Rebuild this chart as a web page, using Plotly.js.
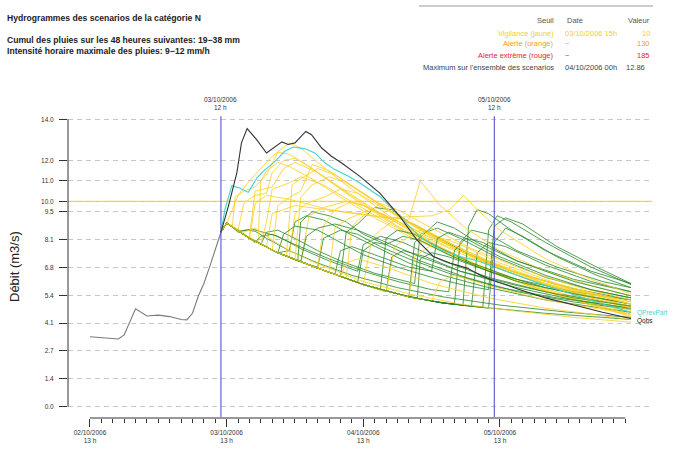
<!DOCTYPE html>
<html>
<head>
<meta charset="utf-8">
<script src="https://cdn.plot.ly/plotly-3.0.1.min.js"></script>
<style>
  html, body { margin: 0; padding: 0; background: #fff; }
  #graph { width: 676px; height: 465px; }
</style>
</head>
<body>
<div id="graph"></div>
<script>
// Time is expressed in hours since 02/10/2006 13h.
const debutPrevision = 23;   // 03/10/2006 12h
const finFenetre = 71;       // 05/10/2006 12h
const seuilVigilance = 10;

// Observed discharge (Qobs)
const obsT = [0, 5, 6, 7, 8, 10, 12, 14, 16, 17, 18, 19, 20, 21, 22, 23,
  24.3, 25.8, 26.6, 27.6, 29.3, 31, 32.5, 33.7, 34.8, 36, 37.9, 38.9, 40.7, 42.4, 44.2,
  47.4, 50.9, 54.4, 57.4, 60.3, 63.2, 66.2, 68.5, 70.2, 75, 80, 85, 90, 95];
const obsQ = [3.41, 3.30, 3.5, 4.1, 4.77, 4.42, 4.46, 4.39, 4.25, 4.23, 4.55, 5.37, 6.0, 6.8, 7.7, 8.5,
  9.76, 11.4, 12.85, 13.55, 13.0, 12.36, 12.68, 12.9, 12.77, 12.85, 13.41, 13.25, 12.6, 12.2, 11.87,
  11.22, 10.4, 9.27, 8.13, 7.32, 7.0, 6.75, 6.42, 6.21, 5.75, 5.3, 4.95, 4.6, 4.3];

// Forecast with partial rainfall (QPrevPart)
const qprevT = [23, 23.7, 24.9, 26.3, 27.8, 29.3, 30.4, 32.5, 34.2, 35.7, 37.8, 39.5, 41.3, 43.0,
  45.4, 47.4, 50.9, 54.4, 57.9, 61.5, 65, 68.5, 75, 80, 85, 90, 95];
const qprevQ = [8.5, 9.6, 10.77, 10.65, 10.44, 11.14, 11.46, 11.95, 12.44, 12.65, 12.56, 12.36, 11.87, 11.55,
  11.22, 10.9, 10.24, 9.27, 8.29, 7.64, 7.32, 7.07, 6.4, 5.9, 5.45, 5.0, 4.6];

// Rainfall scenarios, [hour, discharge] pairs — stronger responses (yellow)
const scenariosJaunes = [
  [[23,8.5],[24,8.95],[25,9.6],[26,10.3],[28,11.0],[30,11.6],[32,12.2],[35,12.86],[37,12.6],[40,11.9],[44,11.0],[48,10.2],[52,9.4],[56,8.7],[60,8.0],[65,7.3],[70,6.7],[75,6.2],[80,5.75],[85,5.35],[90,5.0],[95,4.7]],
  [[23,8.5],[24,8.95],[25,8.8],[25.5,10.2],[27,10.5],[29,10.7],[31,11.3],[33,12.4],[35,12.3],[38,11.8],[42,11.0],[47,10.0],[52,9.1],[58,8.1],[64,7.3],[70,6.6],[78,5.8],[86,5.2],[95,4.6]],
  [[23,8.5],[24,8.95],[26,8.6],[27,9.9],[29,10.3],[31,10.4],[32,11.4],[34,12.0],[36,12.1],[39,11.6],[43,10.8],[48,9.9],[54,8.8],[60,7.9],[66,7.1],[73,6.3],[81,5.6],[88,5.0],[95,4.5]],
  [[23,8.5],[24,8.95],[26,8.55],[28,8.25],[29,10.5],[32,10.7],[34,11.6],[36,11.9],[40,11.4],[45,10.5],[50,9.6],[56,8.6],[62,7.7],[68,6.9],[76,6.0],[85,5.2],[95,4.4]],
  [[23,8.5],[24,8.95],[27,8.4],[29.5,8.0],[30,11.0],[31,11.5],[33,11.9],[35,11.7],[39,11.1],[44,10.2],[50,9.2],[56,8.3],[63,7.4],[70,6.6],[79,5.7],[88,5.0],[95,4.5]],
  [[23,8.5],[24,8.95],[27,8.4],[30,7.9],[31,9.0],[32,10.6],[35,10.9],[37,11.2],[41,10.8],[46,10.0],[52,9.0],[58,8.1],[65,7.2],[72,6.4],[80,5.6],[88,4.95],[95,4.4]],
  [[23,8.5],[24,8.95],[28,8.2],[32,7.6],[33,9.8],[35,10.2],[37,10.5],[39,11.8],[42,11.5],[47,10.6],[53,9.5],[59,8.5],[65,7.6],[72,6.7],[80,5.9],[88,5.2],[95,4.7]],
  [[23,8.5],[24,8.95],[28,8.2],[33,7.5],[34.5,7.35],[35.5,10.8],[37,11.1],[40,11.6],[43,11.3],[48,10.4],[54,9.3],[60,8.3],[67,7.3],[75,6.4],[85,5.5],[95,4.8]],
  [[23,8.5],[24,8.95],[28,8.2],[33,7.5],[35,7.3],[36,9.4],[38,9.9],[41,10.2],[44,10.6],[47,10.4],[52,9.6],[58,8.6],[65,7.6],[73,6.6],[83,5.7],[95,4.9]],
  [[23,8.5],[24,8.95],[28,8.2],[33,7.5],[36,7.15],[37,10.2],[39,10.8],[42,11.2],[45,10.9],[50,10.0],[56,9.0],[62,8.1],[70,7.1],[80,6.0],[95,4.85]],
  [[23,8.5],[24,8.95],[28,8.2],[33,7.5],[37,7.05],[38.5,9.3],[41,9.7],[45,10.0],[48,9.8],[53,9.1],[60,8.1],[68,7.1],[78,6.1],[88,5.3],[95,4.8]],
  [[23,8.5],[24,8.95],[28,8.2],[33,7.5],[40,6.75],[41,8.8],[43,9.6],[46,10.0],[49,9.7],[55,8.9],[62,7.9],[70,7.0],[80,6.0],[95,5.0]],
  [[23,8.5],[24,8.95],[28,8.2],[33,7.5],[40,6.75],[42,6.55],[43,8.7],[45,9.1],[49,9.6],[52,9.3],[58,8.5],[65,7.6],[74,6.6],[85,5.7],[95,5.1]],
  [[23,8.5],[24,8.95],[28,8.2],[33,7.5],[40,6.75],[45,6.25],[46,8.8],[48,9.3],[51,9.9],[54,9.6],[60,8.7],[67,7.7],[76,6.7],[86,5.8],[95,5.2]],
  [[23,8.5],[24,8.95],[28,8.2],[33,7.5],[40,6.75],[48,5.95],[49.5,8.2],[51,8.6],[54,9.2],[57,8.9],[63,8.0],[70,7.1],[80,6.1],[95,5.1]],
  [[23,8.5],[24,8.95],[26,8.55],[28,8.2],[29,9.9],[31,10.3],[35,10.1],[42,9.6],[50,9.3],[56,9.1],[58,11.0],[61.5,9.8],[66,8.7],[72,7.6],[80,6.6],[88,5.9],[95,5.4]],
  [[23,8.5],[24,8.95],[27,8.4],[31,7.8],[32,9.4],[36,9.8],[44,9.5],[52,9.2],[60,9.3],[63.2,9.6],[65.6,10.3],[68,9.6],[72,8.6],[80,7.2],[88,6.2],[95,5.5]],
  [[23,8.5],[24,8.95],[28,8.2],[33,7.5],[40,6.75],[48,5.95],[52,5.6],[53.5,7.8],[55,8.1],[58,8.6],[61,8.3],[67,7.4],[75,6.5],[85,5.7],[95,5.0]],
  [[23,8.5],[24,8.95],[28,8.2],[33,7.5],[40,6.75],[48,5.95],[56,5.35],[57,7.3],[59,7.7],[62,8.2],[65,7.9],[72,7.0],[82,6.0],[95,5.0]],
  [[23,8.5],[24,8.95],[28,8.2],[33,7.5],[40,6.75],[48,5.95],[56,5.35],[60,5.15],[61.5,6.1],[64,6.4],[70,5.9],[80,5.2],[95,4.5]],
  [[23,8.5],[24,8.95],[25.5,8.7],[27,8.5],[29,8.7],[31,8.3],[35,7.6],[40,6.95],[48,6.1],[56,5.5],[65,5.0],[75,4.65],[85,4.35],[95,4.12]],
  [[23,8.5],[24,8.95],[28,8.2],[33,7.5],[40,6.75],[44,6.35],[45,7.0],[47,7.2],[52,6.8],[60,6.0],[70,5.3],[80,4.8],[95,4.25]]
];

// Rainfall scenarios — moderate responses (green)
const scenariosVerts = [
  [[23,8.5],[24,8.95],[25,8.75],[26,8.5],[27.5,8.6],[29,8.55],[31,8.2],[35,7.6],[40,7.0],[46,6.4],[54,5.8],[62,5.35],[72,4.95],[84,4.6],[95,4.35]],
  [[23,8.5],[24,8.95],[26,8.55],[27,8.6],[28.5,8.65],[31,8.45],[33,8.3],[37,7.7],[42,7.1],[47,6.6],[48,7.9],[51,8.3],[55,8.0],[62,7.1],[70,6.3],[80,5.6],[95,4.9]],
  [[23,8.5],[24,8.95],[27,8.4],[30,7.9],[31,8.5],[33,8.6],[36,8.2],[40,7.6],[44,7.1],[50,6.5],[57,6.0],[58,8.4],[61,8.7],[65,8.2],[72,7.2],[80,6.3],[88,5.7],[95,5.3]],
  [[23,8.5],[24,8.95],[28,8.2],[33,7.5],[35,7.6],[36,9.0],[38,9.3],[41,9.1],[45,8.5],[50,7.8],[56,7.0],[62,6.4],[70,5.8],[80,5.2],[95,4.6]],
  [[23,8.5],[24,8.95],[28,8.2],[33,7.5],[36.5,7.1],[37,9.0],[39,9.5],[42,9.3],[45,9.0],[48,8.4],[52,7.9],[58,7.1],[66,6.3],[75,5.6],[85,5.1],[95,4.75]],
  [[23,8.5],[24,8.95],[28,8.2],[33,7.5],[38,6.95],[40,6.8],[41,8.2],[44,8.6],[47,8.4],[51,7.8],[56,7.2],[63,6.5],[72,5.8],[82,5.3],[95,4.8]],
  [[23,8.5],[24,8.95],[28,8.2],[33,7.5],[40,6.75],[44,6.35],[45,8.5],[47,8.9],[50,9.7],[53,9.6],[56,9.0],[60,8.4],[66,7.5],[74,6.6],[84,5.8],[95,5.2]],
  [[23,8.5],[24,8.95],[28,8.2],[33,7.5],[40,6.75],[47,6.05],[48,7.6],[50,8.0],[52,7.9],[55,8.3],[58,8.1],[63,7.4],[70,6.6],[80,5.8],[95,5.0]],
  [[23,8.5],[24,8.95],[28,8.2],[33,7.5],[40,6.75],[48,5.95],[51,5.7],[52,8.2],[54,8.6],[57,8.4],[61,7.8],[67,7.0],[75,6.2],[85,5.6],[95,5.2]],
  [[23,8.5],[24,8.95],[28,8.2],[33,7.5],[40,6.75],[48,5.95],[52,5.6],[53,7.3],[55,7.6],[59,7.3],[65,6.6],[75,5.8],[85,5.2],[95,4.8]],
  [[23,8.5],[24,8.95],[28,8.2],[33,7.5],[40,6.75],[48,5.95],[56,5.35],[57,8.0],[59,8.5],[61,9.0],[64,8.7],[68,8.0],[75,7.1],[85,6.2],[95,5.6]],
  [[23,8.5],[24,8.95],[28,8.2],[33,7.5],[40,6.75],[48,5.95],[56,5.35],[57.5,5.3],[58,7.2],[60,7.5],[63,7.3],[68,6.8],[75,6.1],[85,5.5],[95,5.0]],
  [[23,8.5],[24,8.95],[28,8.2],[33,7.5],[40,6.75],[48,5.95],[56,5.35],[62,5.05],[64,5.0],[65,8.0],[67,8.6],[70,8.4],[75,7.6],[82,6.8],[90,6.1],[95,5.8]],
  [[23,8.5],[24,8.95],[28,8.2],[33,7.5],[40,6.75],[48,5.95],[56,5.35],[62,5.05],[65.5,4.95],[66.5,8.8],[68,9.6],[70,9.4],[74,8.6],[80,7.6],[88,6.6],[95,6.0]],
  [[23,8.5],[24,8.95],[28,8.2],[33,7.5],[40,6.75],[48,5.95],[56,5.35],[62,5.05],[67,4.9],[68,7.5],[70,8.0],[73,7.8],[80,6.9],[88,6.1],[95,5.6]],
  [[23,8.5],[24,8.95],[28,8.2],[33,7.5],[40,6.75],[48,5.95],[56,5.35],[62,5.05],[69,4.85],[70,8.6],[71.5,9.3],[74,9.0],[80,8.0],[88,6.8],[95,5.95]],
  [[23,8.5],[24,8.95],[28,8.2],[33,7.5],[40,6.75],[48,5.95],[56,5.35],[62,5.05],[70,4.8],[71,8.0],[73,8.7],[76,8.3],[82,7.3],[89,6.4],[95,5.8]],
  [[23,8.5],[24,8.95],[27,8.4],[29,8.0],[30,8.3],[32,8.4],[36,7.9],[42,7.2],[48,6.6],[54,6.1],[60,5.7],[63,5.6],[64,7.6],[66,8.2],[69,8.0],[75,7.1],[85,6.1],[95,5.4]],
  [[23,8.5],[24,8.95],[28,8.2],[33,7.5],[34,8.4],[36,8.8],[40,8.6],[44,8.0],[48,7.4],[54,6.8],[60,6.3],[66,5.9],[70,5.7],[71,8.8],[73,9.2],[76,8.9],[82,7.8],[89,6.8],[95,6.0]],
  [[23,8.5],[24,8.95],[28,8.2],[33,7.5],[40,6.75],[43,6.45],[44,7.6],[46,7.8],[50,7.4],[56,6.8],[60,6.6],[61,8.2],[63,8.5],[66,8.2],[72,7.3],[80,6.4],[88,5.7],[95,5.3]],
  [[23,8.5],[24,8.95],[28,8.2],[33,7.5],[40,6.75],[48,5.95],[54,5.5],[60,5.15],[66,4.92],[72,4.75],[80,4.55],[90,4.35],[95,4.25]],
  [[23,8.5],[24,8.95],[28,8.2],[33,7.5],[37,7.05],[38,8.3],[40,8.7],[43,8.9],[47,8.6],[52,8.0],[58,7.3],[65,6.6],[75,5.9],[85,5.3],[95,4.9]]
];

// Axis ticks
const yTickVals = [0, 1.357, 2.714, 4.071, 5.429, 6.786, 8.143, 9.5, 10, 11, 12, 14];
const yTickText = ['0.0', '1.4', '2.7', '4.1', '5.4', '6.8', '8.1', '9.5', '10.0', '11.0', '12.0', '14.0'];
const xMajorVals = [0, 24, 48, 72];
const xMajorText = ['02/10/2006<br>13 h', '03/10/2006<br>13 h', '04/10/2006<br>13 h', '05/10/2006<br>13 h'];

// Threshold table
const seuilLabels = ['Vigilance (jaune)', 'Alerte (orange)', 'Alerte extrême (rouge)', "Maximum sur l'ensemble des scenarios"];
const seuilDates = ['03/10/2006 15h', '−', '−', '04/10/2006 00h'];
const seuilValeurs = ['10', '130', '185', '12.86'];
const seuilColors = ['#f2cf2a', '#f39c1e', '#e8232b', '#444444'];

const FONT = 'Liberation Sans, Arial, sans-serif';
const JAUNE = 'rgba(252, 206, 30, 0.8)';
const VERT = 'rgba(38, 135, 38, 0.8)';

// Plot region in page pixels, used to place texts around it
const L = 68, R = 652, T = 108, B = 418;
const px = x => (x - L) / (R - L);
const py = y => (B - y) / (B - T);

const traces = [];
const n = Math.max(scenariosJaunes.length, scenariosVerts.length);
for (let i = 0; i < n; i++) {
  [[scenariosVerts[i], VERT], [scenariosJaunes[i], JAUNE]].forEach(([s, c]) => {
    if (!s) return;
    traces.push({
      x: s.map(p => p[0]), y: s.map(p => p[1]),
      type: 'scatter', mode: 'lines',
      line: { color: c, width: 1 },
      hoverinfo: 'skip', showlegend: false
    });
  });
}

traces.push({
  x: qprevT, y: qprevQ, type: 'scatter', mode: 'lines',
  line: { color: '#3fd3d3', width: 1.1 }, hoverinfo: 'skip', showlegend: false
});

const pastT = [], pastQ = [], futT = [], futQ = [];
obsT.forEach((t, i) => {
  if (t <= debutPrevision) { pastT.push(t); pastQ.push(obsQ[i]); }
  if (t >= debutPrevision) { futT.push(t); futQ.push(obsQ[i]); }
});
traces.push({
  x: pastT, y: pastQ, type: 'scatter', mode: 'lines',
  line: { color: '#7a7a7a', width: 1.1 }, hoverinfo: 'skip', showlegend: false
});
traces.push({
  x: futT, y: futQ, type: 'scatter', mode: 'lines',
  line: { color: '#333333', width: 1.1 }, hoverinfo: 'skip', showlegend: false
});

// Two-hourly minor ticks along the time axis
const xMinorVals = [];
for (let h = 0; h <= 94; h += 2) if (xMajorVals.indexOf(h) < 0) xMinorVals.push(h);

const ann = [];
const txt = (text, x, y, opts) => ann.push(Object.assign({
  text, x: px(x), y: py(y), xref: 'paper', yref: 'paper', showarrow: false,
  xanchor: 'left', yanchor: 'middle',
  font: { family: FONT, size: 7.5, color: '#555' }
}, opts || {}));

const titreFont = { family: FONT, size: 8.6, color: '#222' };
txt('<b>Hydrogrammes des scenarios de la catégorie N</b>', 5, 18, { font: titreFont });
txt('<b>Cumul des pluies sur les 48 heures suivantes: 19−38 mm</b>', 5, 40, { font: titreFont });
txt('<b>Intensité horaire maximale des pluies: 9−12 mm/h</b>', 5, 51.5, { font: titreFont });

txt('Seuil', 556, 21, { xanchor: 'right' });
txt('Date', 565, 21);
txt('Valeur', 652, 21, { xanchor: 'right' });
const rowY = [33, 44, 55, 67.5];
seuilLabels.forEach((lab, i) => {
  const f = { family: FONT, size: 7.5, color: seuilColors[i] };
  txt(lab, 556, rowY[i], { xanchor: 'right', font: f });
  txt(seuilDates[i], 563, rowY[i], { font: f });
  txt(seuilValeurs[i], i === 3 ? 647 : 652, rowY[i], { xanchor: 'right', font: f });
});

// Labels of the forecast window boundaries
[[debutPrevision, '03/10/2006<br>12 h'], [finFenetre, '05/10/2006<br>12 h']].forEach(([t, lab]) => {
  ann.push({
    text: lab, x: t, xref: 'x', y: py(103.5), yref: 'paper', showarrow: false,
    xanchor: 'center', yanchor: 'middle',
    font: { family: FONT, size: 6.5, color: '#333' }
  });
});

ann.push({ text: 'QPrevPart', x: px(635), y: py(313), xref: 'paper', yref: 'paper', showarrow: false,
  xanchor: 'left', yanchor: 'middle', font: { family: FONT, size: 6.5, color: '#3fd3d3' } });
ann.push({ text: 'Qobs', x: px(635), y: py(321), xref: 'paper', yref: 'paper', showarrow: false,
  xanchor: 'left', yanchor: 'middle', font: { family: FONT, size: 6.5, color: '#222' } });

ann.push({ text: 'Débit (m3/s)', x: px(14), y: py(267), xref: 'paper', yref: 'paper', showarrow: false,
  textangle: -90, xanchor: 'center', yanchor: 'middle', font: { family: FONT, size: 13, color: '#222' } });

const shapes = [
  { type: 'line', xref: 'paper', yref: 'y', x0: 0, x1: 1, y0: seuilVigilance, y1: seuilVigilance,
    line: { color: '#f7dc3c', width: 1.2 }, layer: 'below' },
  { type: 'line', xref: 'x', yref: 'y', x0: debutPrevision, x1: debutPrevision, y0: -0.5, y1: 14.15,
    line: { color: '#4444c8', width: 1 } },
  { type: 'line', xref: 'x', yref: 'y', x0: finFenetre, x1: finFenetre, y0: -0.5, y1: 14.15,
    line: { color: '#4444c8', width: 1 } },
  // axis lines spanning only the labelled range
  { type: 'line', xref: 'paper', yref: 'y', x0: 0, x1: 0, y0: 0, y1: 14, line: { color: '#333', width: 1 } },
  { type: 'line', xref: 'x', yref: 'paper', x0: 0, x1: 94, y0: 0, y1: 0, line: { color: '#333', width: 1 } },
  // rule above the threshold table
  { type: 'line', xref: 'paper', yref: 'paper', x0: px(419), x1: px(653), y0: py(6), y1: py(6),
    line: { color: '#999', width: 1 } }
];

const layout = {
  width: 676, height: 465,
  margin: { l: L, r: 676 - R, t: T, b: 465 - B, pad: 0 },
  paper_bgcolor: '#fff', plot_bgcolor: '#fff',
  showlegend: false,
  font: { family: FONT, color: '#333' },
  xaxis: {
    range: [-3.86, 98.7], showgrid: false, zeroline: false, showline: false,
    tickmode: 'array', tickvals: xMajorVals, ticktext: xMajorText,
    ticks: 'outside', ticklen: 8, tickwidth: 1, tickcolor: '#333',
    tickfont: { family: FONT, size: 6.5, color: '#333' },
    minor: { tickmode: 'array', tickvals: xMinorVals, ticks: 'outside', ticklen: 4, tickwidth: 1, tickcolor: '#333', showgrid: false }
  },
  yaxis: {
    range: [-0.55, 14.55], zeroline: false, showline: false,
    tickmode: 'array', tickvals: yTickVals, ticktext: yTickText,
    ticks: 'outside', ticklen: 8, tickwidth: 1, tickcolor: '#333',
    ticklabelstandoff: 4,
    tickfont: { family: FONT, size: 6.5, color: '#333' },
    showgrid: true, gridcolor: '#c8c8c8', gridwidth: 1, griddash: '5px,4px'
  },
  shapes, annotations: ann
};

Plotly.newPlot('graph', traces, layout, { staticPlot: true, displayModeBar: false });
</script>
</body>
</html>
